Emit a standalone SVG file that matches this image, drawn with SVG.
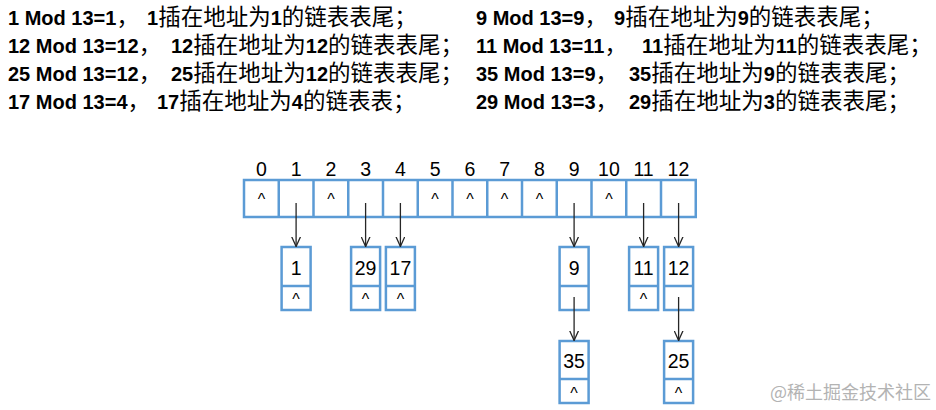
<svg xmlns="http://www.w3.org/2000/svg" width="936" height="410" viewBox="0 0 936 410">
<defs>
<marker id="arr" viewBox="0 0 10 10" refX="10" refY="5" markerWidth="10" markerHeight="10" markerUnits="userSpaceOnUse" orient="auto">
<path d="M0,0.5 L10,5 L0,9.5" fill="none" stroke="#262626" stroke-width="1.3"/>
</marker>
</defs>
<style>
.hd{font-family:"Liberation Sans","Noto Sans CJK SC",sans-serif;font-size:20px;font-weight:bold;fill:#000}
.cj{font-family:"Noto Sans CJK SC","Noto Sans CJK TC",sans-serif;font-size:22.5px;font-weight:400}
.box{fill:#fff;stroke:#5b9bd5;stroke-width:2.5}
.dv{stroke:#5b9bd5;stroke-width:2.5}
.idx{font-family:"Liberation Sans",Arial,sans-serif;font-size:19.5px;fill:#000;text-anchor:middle}
.val{font-family:"Liberation Sans",Arial,sans-serif;font-size:19.5px;fill:#000;text-anchor:middle}
.nil{font-family:"Liberation Sans",Arial,sans-serif;font-size:16px;fill:#000;text-anchor:middle}
.con{stroke:#262626;stroke-width:1.3;fill:none;marker-end:url(#arr)}
.wm{font-family:"Noto Sans CJK SC",sans-serif;font-size:18px;fill:#b3b3b3}
</style>
<rect width="936" height="410" fill="#fff"/>

<g id="notes">
<text class="hd" y="25"><tspan x="8">1 Mod 13=1</tspan><tspan class="cj">，</tspan><tspan x="147">1</tspan><tspan class="cj">插在地址为</tspan>1<tspan class="cj">的链表表尾；</tspan></text>
<text class="hd" y="53"><tspan x="8">12 Mod 13=12</tspan><tspan class="cj">，</tspan><tspan x="171">12</tspan><tspan class="cj">插在地址为</tspan>12<tspan class="cj">的链表表尾；</tspan></text>
<text class="hd" y="81"><tspan x="8">25 Mod 13=12</tspan><tspan class="cj">，</tspan><tspan x="171">25</tspan><tspan class="cj">插在地址为</tspan>12<tspan class="cj">的链表表尾；</tspan></text>
<text class="hd" y="109"><tspan x="8">17 Mod 13=4</tspan><tspan class="cj">，</tspan><tspan x="157">17</tspan><tspan class="cj">插在地址为</tspan>4<tspan class="cj">的链表表；</tspan></text>
<text class="hd" y="25"><tspan x="476">9 Mod 13=9</tspan><tspan class="cj">，</tspan><tspan x="614">9</tspan><tspan class="cj">插在地址为</tspan>9<tspan class="cj">的链表表尾；</tspan></text>
<text class="hd" y="53"><tspan x="476">11 Mod 13=11</tspan><tspan class="cj">，</tspan><tspan x="642">11</tspan><tspan class="cj">插在地址为</tspan>11<tspan class="cj">的链表表尾；</tspan></text>
<text class="hd" y="81"><tspan x="476">35 Mod 13=9</tspan><tspan class="cj">，</tspan><tspan x="629">35</tspan><tspan class="cj">插在地址为</tspan>9<tspan class="cj">的链表表尾；</tspan></text>
<text class="hd" y="109"><tspan x="476">29 Mod 13=3</tspan><tspan class="cj">，</tspan><tspan x="629">29</tspan><tspan class="cj">插在地址为</tspan>3<tspan class="cj">的链表表尾；</tspan></text>
</g>

<g id="table">
<rect class="box" x="244" y="180" width="451.75" height="37"/>
<path class="dv" d="M278.75,180V217M313.5,180V217M348.25,180V217M383,180V217M417.75,180V217M452.5,180V217M487.25,180V217M522,180V217M556.75,180V217M591.5,180V217M626.25,180V217M661,180V217"/>
<text class="idx" x="261.4" y="176">0</text>
<text class="idx" x="296.1" y="176">1</text>
<text class="idx" x="330.9" y="176">2</text>
<text class="idx" x="365.6" y="176">3</text>
<text class="idx" x="400.4" y="176">4</text>
<text class="idx" x="435.1" y="176">5</text>
<text class="idx" x="469.9" y="176">6</text>
<text class="idx" x="504.6" y="176">7</text>
<text class="idx" x="539.4" y="176">8</text>
<text class="idx" x="574.1" y="176">9</text>
<text class="idx" x="608.9" y="176">10</text>
<text class="idx" x="643.6" y="176">11</text>
<text class="idx" x="678.4" y="176">12</text>
<text class="nil" x="261.4" y="204.5">^</text>
<text class="nil" x="330.9" y="204.5">^</text>
<text class="nil" x="435.1" y="204.5">^</text>
<text class="nil" x="469.9" y="204.5">^</text>
<text class="nil" x="504.6" y="204.5">^</text>
<text class="nil" x="539.4" y="204.5">^</text>
<text class="nil" x="608.9" y="204.5">^</text>
</g>

<g id="node-1">
<rect class="box" x="281.6" y="247" width="29" height="63"/>
<path class="dv" d="M281.6,286H310.6"/>
<text class="val" x="296.1" y="275">1</text>
<text class="nil" x="296.1" y="304.5">^</text>
</g>
<g id="node-29">
<rect class="box" x="351.1" y="247" width="29" height="63"/>
<path class="dv" d="M351.1,286H380.1"/>
<text class="val" x="365.6" y="275">29</text>
<text class="nil" x="365.6" y="304.5">^</text>
</g>
<g id="node-17">
<rect class="box" x="385.9" y="247" width="29" height="63"/>
<path class="dv" d="M385.9,286H414.9"/>
<text class="val" x="400.4" y="275">17</text>
<text class="nil" x="400.4" y="304.5">^</text>
</g>
<g id="node-9">
<rect class="box" x="559.6" y="247" width="29" height="63"/>
<path class="dv" d="M559.6,286H588.6"/>
<text class="val" x="574.1" y="275">9</text>
</g>
<g id="node-11">
<rect class="box" x="629.1" y="247" width="29" height="63"/>
<path class="dv" d="M629.1,286H658.1"/>
<text class="val" x="643.6" y="275">11</text>
<text class="nil" x="643.6" y="304.5">^</text>
</g>
<g id="node-12">
<rect class="box" x="664.1" y="247" width="29" height="63"/>
<path class="dv" d="M664.1,286H693.1"/>
<text class="val" x="678.6" y="275">12</text>
</g>
<g id="node-35">
<rect class="box" x="559.6" y="341" width="29" height="62"/>
<path class="dv" d="M559.6,379H588.6"/>
<text class="val" x="574.1" y="368">35</text>
<text class="nil" x="574.1" y="398.5">^</text>
</g>
<g id="node-25">
<rect class="box" x="664.1" y="341" width="29" height="62"/>
<path class="dv" d="M664.1,379H693.1"/>
<text class="val" x="678.6" y="368">25</text>
<text class="nil" x="678.6" y="398.5">^</text>
</g>

<g id="connectors">
<path class="con" d="M296.1,203V246.5"/>
<path class="con" d="M365.6,203V246.5"/>
<path class="con" d="M400.4,203V246.5"/>
<path class="con" d="M574.1,203V246.5"/>
<path class="con" d="M643.6,203V246.5"/>
<path class="con" d="M678.6,203V246.5"/>
<path class="con" d="M574.1,297V340.5"/>
<path class="con" d="M678.6,297V340.5"/>
</g>

<text class="wm" x="770" y="399">@稀土掘金技术社区</text>
</svg>
